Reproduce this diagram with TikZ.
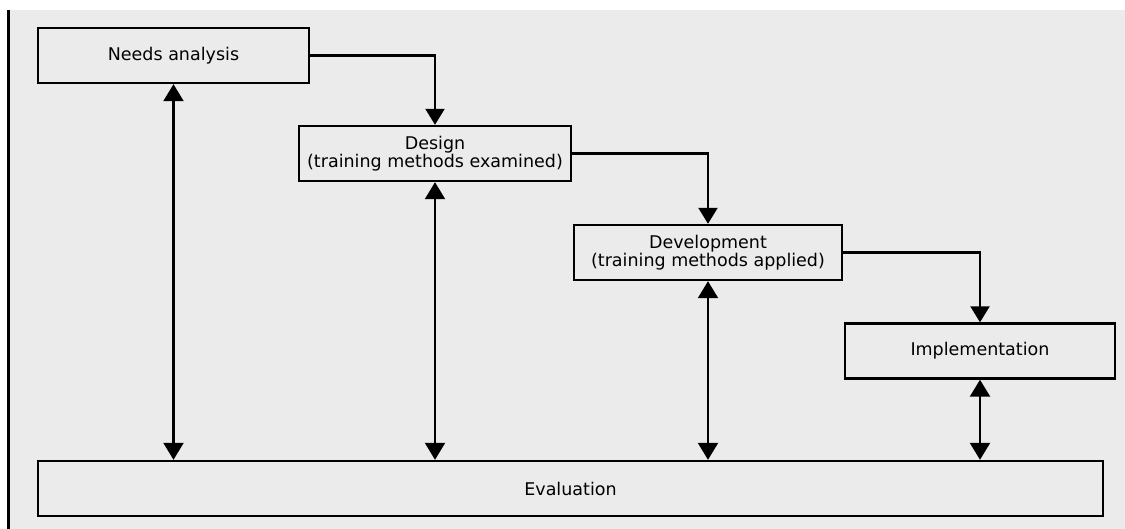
\documentclass[tikz,border=0pt]{standalone}
\usepackage{fontspec}
\setmainfont{DejaVu Sans}
\usetikzlibrary{arrows.meta}
\begin{document}
\begin{tikzpicture}[x=1pt,y=-1pt,
  stage/.style={draw=black, line width=2.4pt, fill=none, inner sep=0pt,
    minimum height=55pt, align=center,
    font=\fontsize{17.5}{15.5}\selectfont},
  flow/.style={draw=black, line width=2.2pt,
    -{Triangle[width=19pt,length=16pt]}},
  twoway/.style={draw=black, line width=2.2pt,
    {Triangle[width=20pt,length=17pt]}-{Triangle[width=20pt,length=17pt]}}]
  % page and background panel
  \useasboundingbox (0,0) rectangle (1125,529);
  \fill[white] (0,0) rectangle (1125,529);
  \fill[black!8] (10,10) rectangle (1125,529);
  \draw[black, line width=2.5pt] (8.5,10) -- (8.5,529);

  % stages
  \node[stage, minimum width=271pt] (needs) at (173.5,55.5) {Needs analysis};
  \node[stage, minimum width=272pt] (design) at (435,153.5)
    {Design\\(training methods examined)};
  \node[stage, minimum width=268pt] (dev) at (708,252.5)
    {Development\\(training methods applied)};
  \node[stage, minimum width=270pt] (impl) at (980,351) {Implementation};
  \node[stage, minimum width=1065pt] (eval) at (570.5,488.5) {Evaluation};

  % sequence between stages
  \draw[flow] (needs.east) -| (design.north);
  \draw[flow] (design.east) -| (dev.north);
  \draw[flow] (dev.east) -| (impl.north);

  % links with evaluation
  \draw[twoway] (needs.south) -- (needs.south |- eval.north);
  \draw[twoway] (design.south) -- (design.south |- eval.north);
  \draw[twoway] (dev.south) -- (dev.south |- eval.north);
  \draw[twoway] (impl.south) -- (impl.south |- eval.north);
\end{tikzpicture}
\end{document}
